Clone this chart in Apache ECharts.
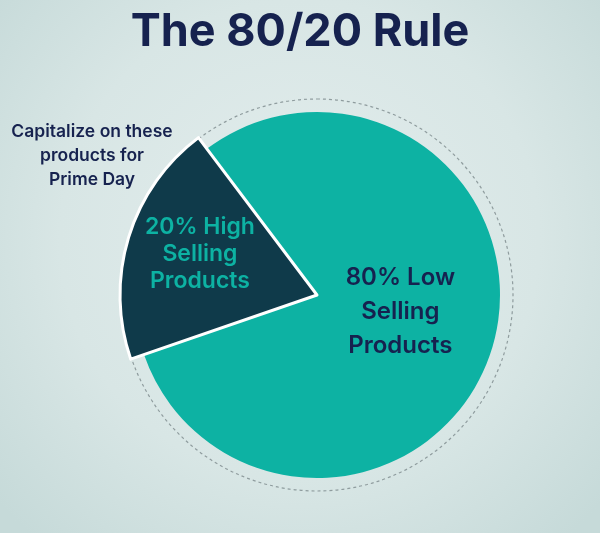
<!DOCTYPE html>
<html>
<head>
<meta charset="utf-8">
<title>The 80/20 Rule</title>
<script src="https://cdn.jsdelivr.net/npm/echarts@6/dist/echarts.min.js"></script>
<style>
	html, body { margin: 0; padding: 0; }
	#chart { width: 600px; height: 533px; }
</style>
</head>
<body>
<div id="chart"></div>
<script>
	// data
	var names = ['High Selling Products', 'Low Selling Products'];
	var shares = [20, 80];
	var sliceLabels = ['20% High\nSelling\nProducts', '80% Low\nSelling\nProducts'];
	var note = 'Capitalize on these\nproducts for\nPrime Day';

	var myChart = null;

	function draw_charts(){
		myChart = echarts.init(document.getElementById('chart'));
		myChart.setOption(cal_option());
		window.onresize = function(){
			myChart.resize();
		}
	};

	function cal_option(){
		var teal = '#0db2a3';
		var dark = '#0f3a4a';
		var navy = '#16224f';
		var center = [317, 295];

		// dark slice is drawn bigger than the teal one
		var darkData = [];
		var tealData = [];
		for (var i = 0; i < shares.length; i++) {
			var isHigh = (i == 0);
			darkData.push({
				name: names[i],
				value: shares[i],
				itemStyle: isHigh ? { color: dark, borderColor: '#ffffff', borderWidth: 3 } : { color: 'transparent' },
				label: isHigh ? { show: true, formatter: sliceLabels[i], color: teal, fontSize: 23, lineHeight: 27 } : { show: false }
			});
			tealData.push({
				name: names[i],
				value: shares[i],
				itemStyle: isHigh ? { color: 'transparent' } : { color: teal },
				label: isHigh ? { show: false } : { show: true, formatter: sliceLabels[i], color: navy, fontSize: 24, lineHeight: 34 }
			});
		}

		var option = {
			animation: false,
			backgroundColor: {
				type: 'radial', x: 0.5, y: 0.45, r: 0.75,
				colorStops: [
					{ offset: 0, color: '#e3eded' },
					{ offset: 0.6, color: '#d8e6e5' },
					{ offset: 1, color: '#c6dad9' }
				]
			},
			title: {
				text: 'The 80/20 Rule',
				left: 'center',
				top: 5,
				textStyle: {
					fontFamily: 'Inter',
					fontWeight: 700,
					fontSize: 45,
					color: navy
				}
			},
			graphic: [{
				type: 'text',
				x: 92,
				y: 120,
				style: {
					text: note,
					fill: navy,
					font: '600 17.5px Inter',
					lineHeight: 24,
					align: 'center'
				}
			}],
			series: [
				{
					// dotted outline
					type: 'pie',
					silent: true,
					center: center,
					radius: [0, 196],
					label: { show: false },
					itemStyle: {
						color: 'transparent',
						borderColor: '#8f9c9e',
						borderWidth: 1.2,
						borderType: [3, 3]
					},
					data: [{ name: 'outline', value: 1 }]
				},
				{
					type: 'pie',
					silent: true,
					center: center,
					radius: [0, 183],
					startAngle: 199,
					label: { position: 'inside', fontFamily: 'Inter', fontWeight: 600 },
					labelLayout: { dx: -7, dy: -11 },
					data: tealData
				},
				{
					type: 'pie',
					silent: true,
					center: center,
					radius: [0, 197],
					startAngle: 199,
					label: { position: 'inside', fontFamily: 'Inter', fontWeight: 600 },
					labelLayout: { dx: -20, dy: -11 },
					data: darkData
				}
			]
		};
		return option;
	};

	draw_charts();
</script>
</body>
</html>
